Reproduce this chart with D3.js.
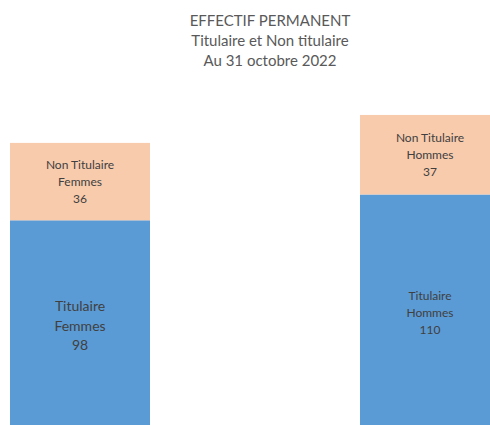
<!DOCTYPE html>
<html>
<head>
<meta charset="utf-8">
<script src="https://cdn.jsdelivr.net/npm/d3@7"></script>
<style>
  html, body { margin: 0; padding: 0; background: #ffffff; }
  svg { display: block; }
  text { font-family: Lato, "Open Sans", sans-serif; }
</style>
</head>
<body>
<svg id="chart" width="490" height="425"></svg>
<script>
// Effectif permanent au 31 octobre 2022
const categories = ["Femmes", "Hommes"];
const titulaire = [98, 110];
const nonTitulaire = [36, 37];
const seriesNames = ["Titulaire", "Non Titulaire"];
const titleLines = ["EFFECTIF PERMANENT", "Titulaire et Non titulaire", "Au 31 octobre 2022"];

const colors = { "Titulaire": "#5b9bd5", "Non Titulaire": "#f8cbad" };

const svg = d3.select("#chart");
const W = 490, H = 425;

// The plot area runs past the bottom edge of the canvas, so the bars are cut off there
const x = d3.scaleBand()
  .domain(categories)
  .range([-95, 605])
  .paddingInner(0.6)
  .paddingOuter(0.3);

const y = d3.scaleLinear()
  .domain([0, 150])
  .range([431, 431 - 150 * 2.15]);

const rows = categories.map((c, i) => ({
  cat: c,
  "Titulaire": titulaire[i],
  "Non Titulaire": nonTitulaire[i]
}));

const stacked = d3.stack().keys(seriesNames)(rows);

svg.append("defs").append("clipPath").attr("id", "clip")
  .append("rect").attr("x", 0).attr("y", 0).attr("width", W).attr("height", H);
const plot = svg.append("g").attr("clip-path", "url(#clip)");

const layers = plot.selectAll("g.layer")
  .data(stacked)
  .join("g")
  .attr("class", "layer")
  .attr("fill", d => colors[d.key]);

layers.selectAll("rect")
  .data(d => d)
  .join("rect")
  .attr("x", d => x(d.data.cat))
  .attr("y", d => y(d[1]))
  .attr("width", x.bandwidth())
  .attr("height", d => y(d[0]) - y(d[1]));

// Data labels: series name, category, value, centred in each segment
const labelSize = {
  "Titulaire|Femmes": 14,
  "Titulaire|Hommes": 12,
  "Non Titulaire|Femmes": 12,
  "Non Titulaire|Hommes": 12
};

stacked.forEach(layer => {
  layer.forEach(d => {
    const fs = labelSize[layer.key + "|" + d.data.cat];
    const lh = fs * 1.41;
    const cx = x(d.data.cat) + x.bandwidth() / 2;
    const cy = (y(d[0]) + y(d[1])) / 2;
    const lines = [layer.key, d.data.cat, String(d.data[layer.key])];
    const t = plot.append("text")
      .attr("text-anchor", "middle")
      .attr("fill", "#404040")
      .attr("font-size", fs + "px");
    lines.forEach((ln, k) => {
      t.append("tspan")
        .attr("x", cx)
        .attr("y", cy + (k - 1) * lh + fs * 0.35)
        .text(ln);
    });
  });
});

// Title
const title = svg.append("text")
  .attr("text-anchor", "middle")
  .attr("fill", "#595959")
  .attr("font-size", "15px");
titleLines.forEach((ln, k) => {
  title.append("tspan")
    .attr("x", 270)
    .attr("y", 26 + k * 20)
    .text(ln);
});
</script>
</body>
</html>
